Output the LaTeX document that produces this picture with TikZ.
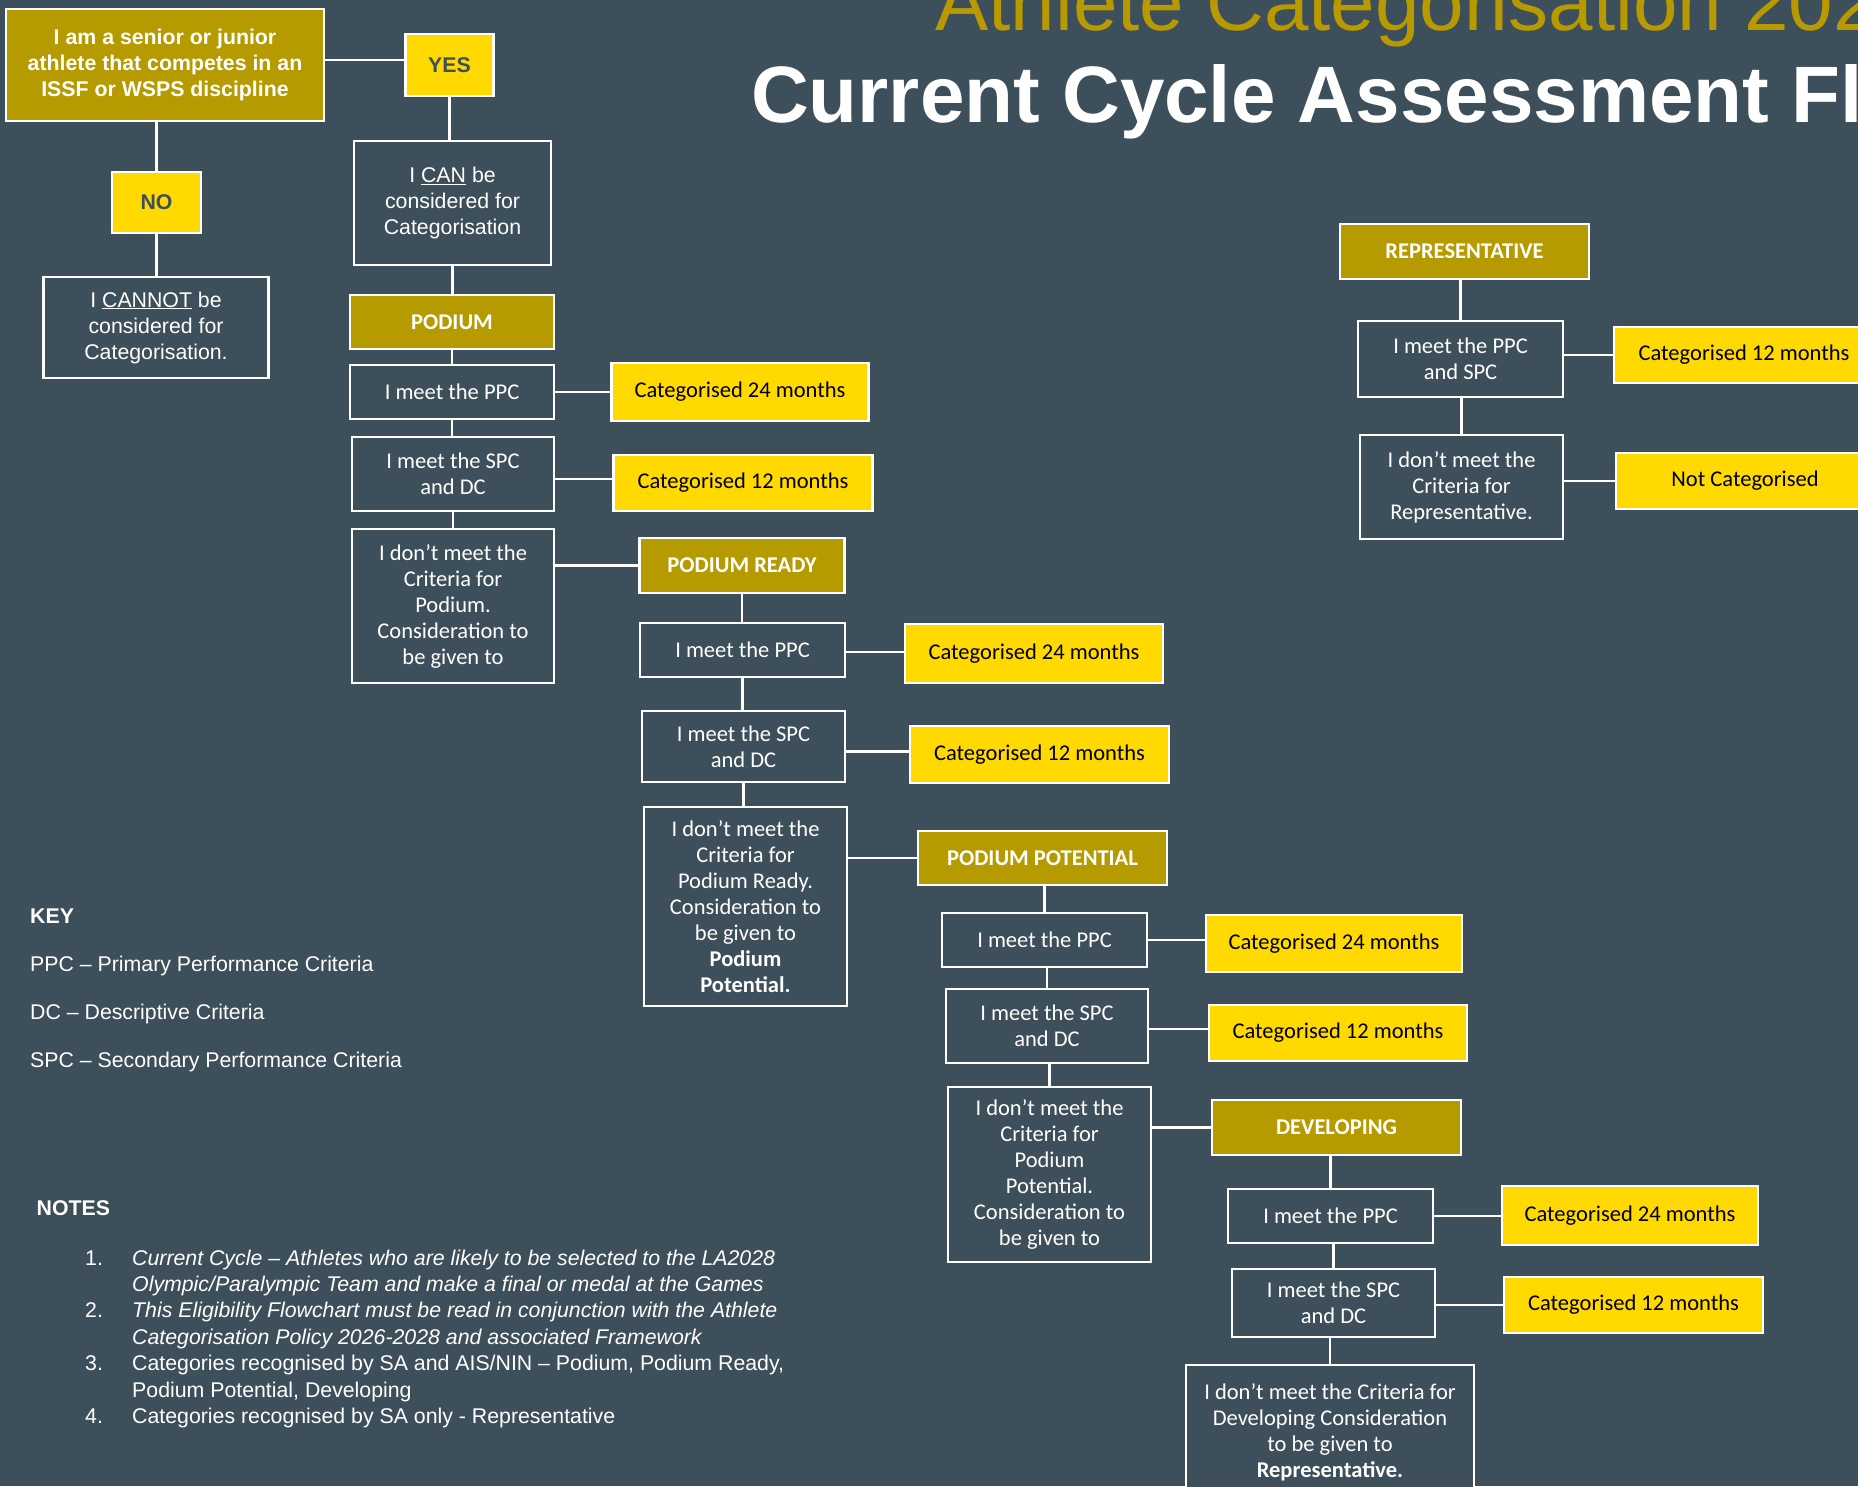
\documentclass[tikz,border=0pt]{standalone}
\usepackage{fontspec}
\setmainfont{Carlito}
\newfontfamily\arialfam{Liberation Sans}
\definecolor{bgc}{HTML}{3D4F5A}
\definecolor{goldc}{HTML}{B59A00}
\definecolor{yelc}{HTML}{FFD900}
\definecolor{titlegold}{HTML}{B89A00}
\newcommand\boxfont{\fontsize{22.5}{26}\selectfont}
\newcommand\boxbold{\fontsize{22.5}{26}\selectfont\bfseries}
\newcommand\arialtext{\arialfam\fontsize{21.3}{26}\selectfont}
\newcommand\arialbold{\arialfam\fontsize{21.3}{26}\selectfont\bfseries}
\newcommand\titlefont{\arialfam\fontsize{80}{96}\selectfont}
\tikzset{
  conn/.style={draw=white, line width=2.2pt},
  plain/.style={draw=white, line width=2.2pt, fill=bgc, text=white, align=center, inner sep=0pt, font=\boxfont},
  goldbox/.style={plain, fill=goldc, font=\boxbold},
  yelbox/.style={plain, fill=yelc, text=black},
  answer/.style={plain, fill=yelc, text=bgc, font=\arialbold},
  keytext/.style={anchor=base west, inner sep=0pt, text=white, font=\arialtext},
}
\begin{document}
\begin{tikzpicture}[x=1pt,y=-1pt]
\useasboundingbox (0,0) rectangle (1858,1486);
\fill[bgc] (0,0) rectangle (1858,1486);
\clip (0,0) rectangle (1858,1486);

% titles
\node[anchor=base west, inner sep=0pt, text=titlegold, font=\titlefont] (t1) at (935,30) {Athlete Categorisation 2026-2028};
\node[anchor=base west, inner sep=0pt, text=white, font=\titlefont\bfseries] (t2) at (751,122) {Current Cycle Assessment Flowchart};

% entry
\node[goldbox, font=\arialbold, minimum width=318, minimum height=112] (top) at (165,65) {I am a senior or junior\\athlete that competes in an\\ISSF or WSPS discipline};
\node[answer, minimum width=88, minimum height=62] (yes) at (449.5,65) {YES};
\node[answer, minimum width=89, minimum height=61] (no) at (156.5,202.5) {NO};
\node[plain, font=\arialtext, minimum width=225, minimum height=101] (cannot) at (156,327.5) {I \underline{CANNOT} be\\considered for\\Categorisation.};
\node[plain, font=\arialtext, minimum width=197, minimum height=124] (can) at (452.5,203) {I \underline{CAN} be\\considered for\\Categorisation};

% podium
\node[goldbox, minimum width=204, minimum height=54] (podium) at (452,322) {PODIUM};
\node[plain, minimum width=204, minimum height=54] (pppc) at (452,392) {I meet the PPC};
\node[yelbox, minimum width=257, minimum height=58] (pc24) at (740,392) {Categorised 24 months};
\node[plain, minimum width=202, minimum height=74] (pspc) at (453,474) {I meet the SPC\\and DC};
\node[yelbox, minimum width=259, minimum height=56] (pc12) at (743,483) {Categorised 12 months};
\node[plain, minimum width=202, minimum height=154] (pdont) at (453,606) {I don’t meet the\\Criteria for\\Podium.\\Consideration to\\be given to};

% podium ready
\node[goldbox, minimum width=205, minimum height=55] (pr) at (742,565.5) {PODIUM READY};
\node[plain, minimum width=205, minimum height=54] (prppc) at (742.5,650) {I meet the PPC};
\node[yelbox, minimum width=258, minimum height=59] (prc24) at (1034,653.5) {Categorised 24 months};
\node[plain, minimum width=203, minimum height=71] (prspc) at (743.5,746.5) {I meet the SPC\\and DC};
\node[yelbox, minimum width=259, minimum height=57] (prc12) at (1039.5,754.5) {Categorised 12 months};
\node[plain, minimum width=203, minimum height=199] (prdont) at (745.5,906.5) {I don’t meet the\\Criteria for\\Podium Ready.\\Consideration to\\be given to\\\textbf{Podium}\\\textbf{Potential.}};

% podium potential
\node[goldbox, minimum width=249, minimum height=54] (pp) at (1042.5,858) {PODIUM POTENTIAL};
\node[plain, minimum width=205, minimum height=54] (ppppc) at (1044.5,940) {I meet the PPC};
\node[yelbox, minimum width=256, minimum height=57] (ppc24) at (1334,943.5) {Categorised 24 months};
\node[plain, minimum width=202, minimum height=74] (ppspc) at (1047,1026) {I meet the SPC\\and DC};
\node[yelbox, minimum width=258, minimum height=56] (ppc12) at (1338,1033) {Categorised 12 months};
\node[plain, minimum width=203, minimum height=175] (ppdont) at (1049.5,1174.5) {I don’t meet the\\Criteria for\\Podium\\Potential.\\Consideration to\\be given to};

% developing
\node[goldbox, minimum width=249, minimum height=55] (dev) at (1336.5,1127.5) {DEVELOPING};
\node[plain, minimum width=205, minimum height=54] (devppc) at (1330.5,1216) {I meet the PPC};
\node[yelbox, minimum width=256, minimum height=59] (devc24) at (1630,1215.5) {Categorised 24 months};
\node[plain, minimum width=203, minimum height=68] (devspc) at (1333.5,1303) {I meet the SPC\\and DC};
\node[yelbox, minimum width=259, minimum height=56] (devc12) at (1633.5,1305) {Categorised 12 months};
\node[plain, minimum width=288, minimum height=135] (devdont) at (1330,1432.5) {I don’t meet the Criteria for\\Developing Consideration\\to be given to\\\textbf{Representative.}};

% representative
\node[goldbox, minimum width=249, minimum height=55] (rep) at (1464.5,251.5) {REPRESENTATIVE};
\node[plain, minimum width=205, minimum height=76] (repppc) at (1460.5,359) {I meet the PPC\\and SPC};
\node[yelbox, minimum width=260, minimum height=56] (repc12) at (1744,355) {Categorised 12 months};
\node[plain, minimum width=203, minimum height=104] (repdont) at (1461.5,487) {I don’t meet the\\Criteria for\\Representative.};
\node[yelbox, minimum width=258, minimum height=56] (repnc) at (1745,481) {Not Categorised};

% connectors
\draw[conn] ([yshift=5pt]top.east) -- ([yshift=5pt]top.east -| yes.west);
\draw[conn] (no.north) -- (no.north |- top.south);
\draw[conn] (no.south) -- (no.south |- cannot.north);
\draw[conn] (yes.south) -- (yes.south |- can.north);
\draw[conn] (can.south) -- (can.south |- podium.north);
\draw[conn] (podium.south) -- (podium.south |- pppc.north);
\draw[conn] (pppc.south) -- (pppc.south |- pspc.north);
\draw[conn] (pspc.south) -- (pspc.south |- pdont.north);
\draw[conn] (pppc.east) -- (pppc.east -| pc24.west);
\draw[conn] ([yshift=-5pt]pspc.east) -- ([yshift=-5pt]pspc.east -| pc12.west);
\draw[conn] (pr.west -| pdont.east) -- (pr.west);

\draw[conn] (pr.south) -- (pr.south |- prppc.north);
\draw[conn] (prppc.south) -- (prppc.south |- prspc.north);
\draw[conn] (prspc.south) -- (prspc.south |- prdont.north);
\draw[conn] ([yshift=-2pt]prppc.east) -- ([yshift=-2pt]prppc.east -| prc24.west);
\draw[conn] ([yshift=-5pt]prspc.east) -- ([yshift=-5pt]prspc.east -| prc12.west);
\draw[conn] (pp.west -| prdont.east) -- (pp.west);

\draw[conn] (ppppc.north) -- (ppppc.north |- pp.south);
\draw[conn] (ppspc.north) -- (ppspc.north |- ppppc.south);
\draw[conn] (ppdont.north) -- (ppdont.north |- ppspc.south);
\draw[conn] (ppppc.east) -- (ppppc.east -| ppc24.west);
\draw[conn] ([yshift=-3pt]ppspc.east) -- ([yshift=-3pt]ppspc.east -| ppc12.west);
\draw[conn] (dev.west -| ppdont.east) -- (dev.west);

\draw[conn] (devppc.north) -- (devppc.north |- dev.south);
\draw[conn] (devspc.north) -- (devspc.north |- devppc.south);
\draw[conn] (devdont.north) -- (devdont.north |- devspc.south);
\draw[conn] (devppc.east) -- (devppc.east -| devc24.west);
\draw[conn] (devc12.west -| devspc.east) -- (devc12.west);

\draw[conn] (repppc.north) -- (repppc.north |- rep.south);
\draw[conn] (repdont.north) -- (repdont.north |- repppc.south);
\draw[conn] (repc12.west -| repppc.east) -- (repc12.west);
\draw[conn] (repnc.west -| repdont.east) -- (repnc.west);

% key
\node[keytext, font=\arialbold] (key) at (30,923) {KEY};
\node[keytext] (k1) at (30,971.5) {PPC – Primary Performance Criteria};
\node[keytext] (k2) at (30,1019) {DC – Descriptive Criteria};
\node[keytext] (k3) at (30,1067.5) {SPC – Secondary Performance Criteria};

% notes
\node[keytext, font=\arialbold] (notes) at (36.5,1215.5) {NOTES};
\node[keytext] (n1) at (85,1265) {1.};
\node[keytext] (n1a) at (132,1265) {\itshape Current Cycle – Athletes who are likely to be selected to the LA2028};
\node[keytext] (n1b) at (132,1291) {\itshape Olympic/Paralympic Team and make a final or medal at the Games};
\node[keytext] (n2) at (85,1317) {2.};
\node[keytext] (n2a) at (132,1317) {\itshape This Eligibility Flowchart must be read in conjunction with the Athlete};
\node[keytext] (n2b) at (132,1344) {\itshape Categorisation Policy 2026-2028 and associated Framework};
\node[keytext] (n3) at (85,1370) {3.};
\node[keytext] (n3a) at (132,1370) {Categories recognised by SA and AIS/NIN – Podium, Podium Ready,};
\node[keytext] (n3b) at (132,1397) {Podium Potential, Developing};
\node[keytext] (n4) at (85,1423) {4.};
\node[keytext] (n4a) at (132,1423) {Categories recognised by SA only - Representative};
\end{tikzpicture}
\end{document}
